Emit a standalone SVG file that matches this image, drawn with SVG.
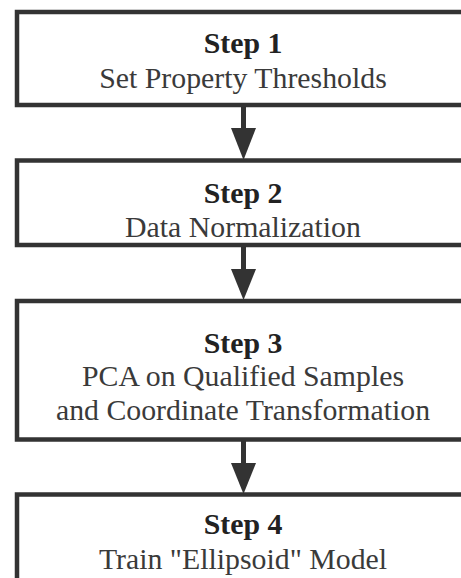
<svg xmlns="http://www.w3.org/2000/svg" width="461" height="578" viewBox="0 0 461 578">
<style>
.box{fill:#fff;stroke:#333;stroke-width:4.5}
.t{font-family:'Liberation Serif','DejaVu Serif',Tinos,'Times New Roman',Times,serif;font-size:29.8px;fill:#3a3a3a;text-anchor:middle}
.b{font-weight:bold;fill:#222}
.shaft{stroke:#333;stroke-width:5}
.head{fill:#333}
</style>
<rect width="461" height="578" fill="#fff"/>
<g id="connectors">
<line class="shaft" x1="243.5" y1="105" x2="243.5" y2="130"/>
<polygon class="head" points="231,128 256,128 243.5,160"/>
<line class="shaft" x1="243.5" y1="245" x2="243.5" y2="271"/>
<polygon class="head" points="231,269 256,269 243.5,300"/>
<line class="shaft" x1="243.5" y1="439" x2="243.5" y2="465"/>
<polygon class="head" points="231,463 256,463 243.5,494"/>
</g>
<g id="step1">
<rect class="box" x="17" y="12" width="452" height="93"/>
<text class="t b" x="243" y="53" font-family="Liberation Serif">Step 1</text>
<text class="t" x="243" y="88" font-family="Liberation Serif">Set Property Thresholds</text>
</g>
<g id="step2">
<rect class="box" x="17" y="160.5" width="452" height="84.5"/>
<text class="t b" x="243" y="203" font-family="Liberation Serif">Step 2</text>
<text class="t" x="243" y="237" font-family="Liberation Serif">Data Normalization</text>
</g>
<g id="step3">
<rect class="box" x="17" y="301" width="452" height="138.5"/>
<text class="t b" x="243" y="353" font-family="Liberation Serif">Step 3</text>
<text class="t" x="243" y="386" font-family="Liberation Serif">PCA on Qualified Samples</text>
<text class="t" x="243" y="420" font-family="Liberation Serif">and Coordinate Transformation</text>
</g>
<g id="step4">
<rect class="box" x="17" y="494.5" width="452" height="120"/>
<text class="t b" x="243" y="534" font-family="Liberation Serif">Step 4</text>
<text class="t" x="243" y="569" font-family="Liberation Serif">Train "Ellipsoid" Model</text>
</g>
</svg>
